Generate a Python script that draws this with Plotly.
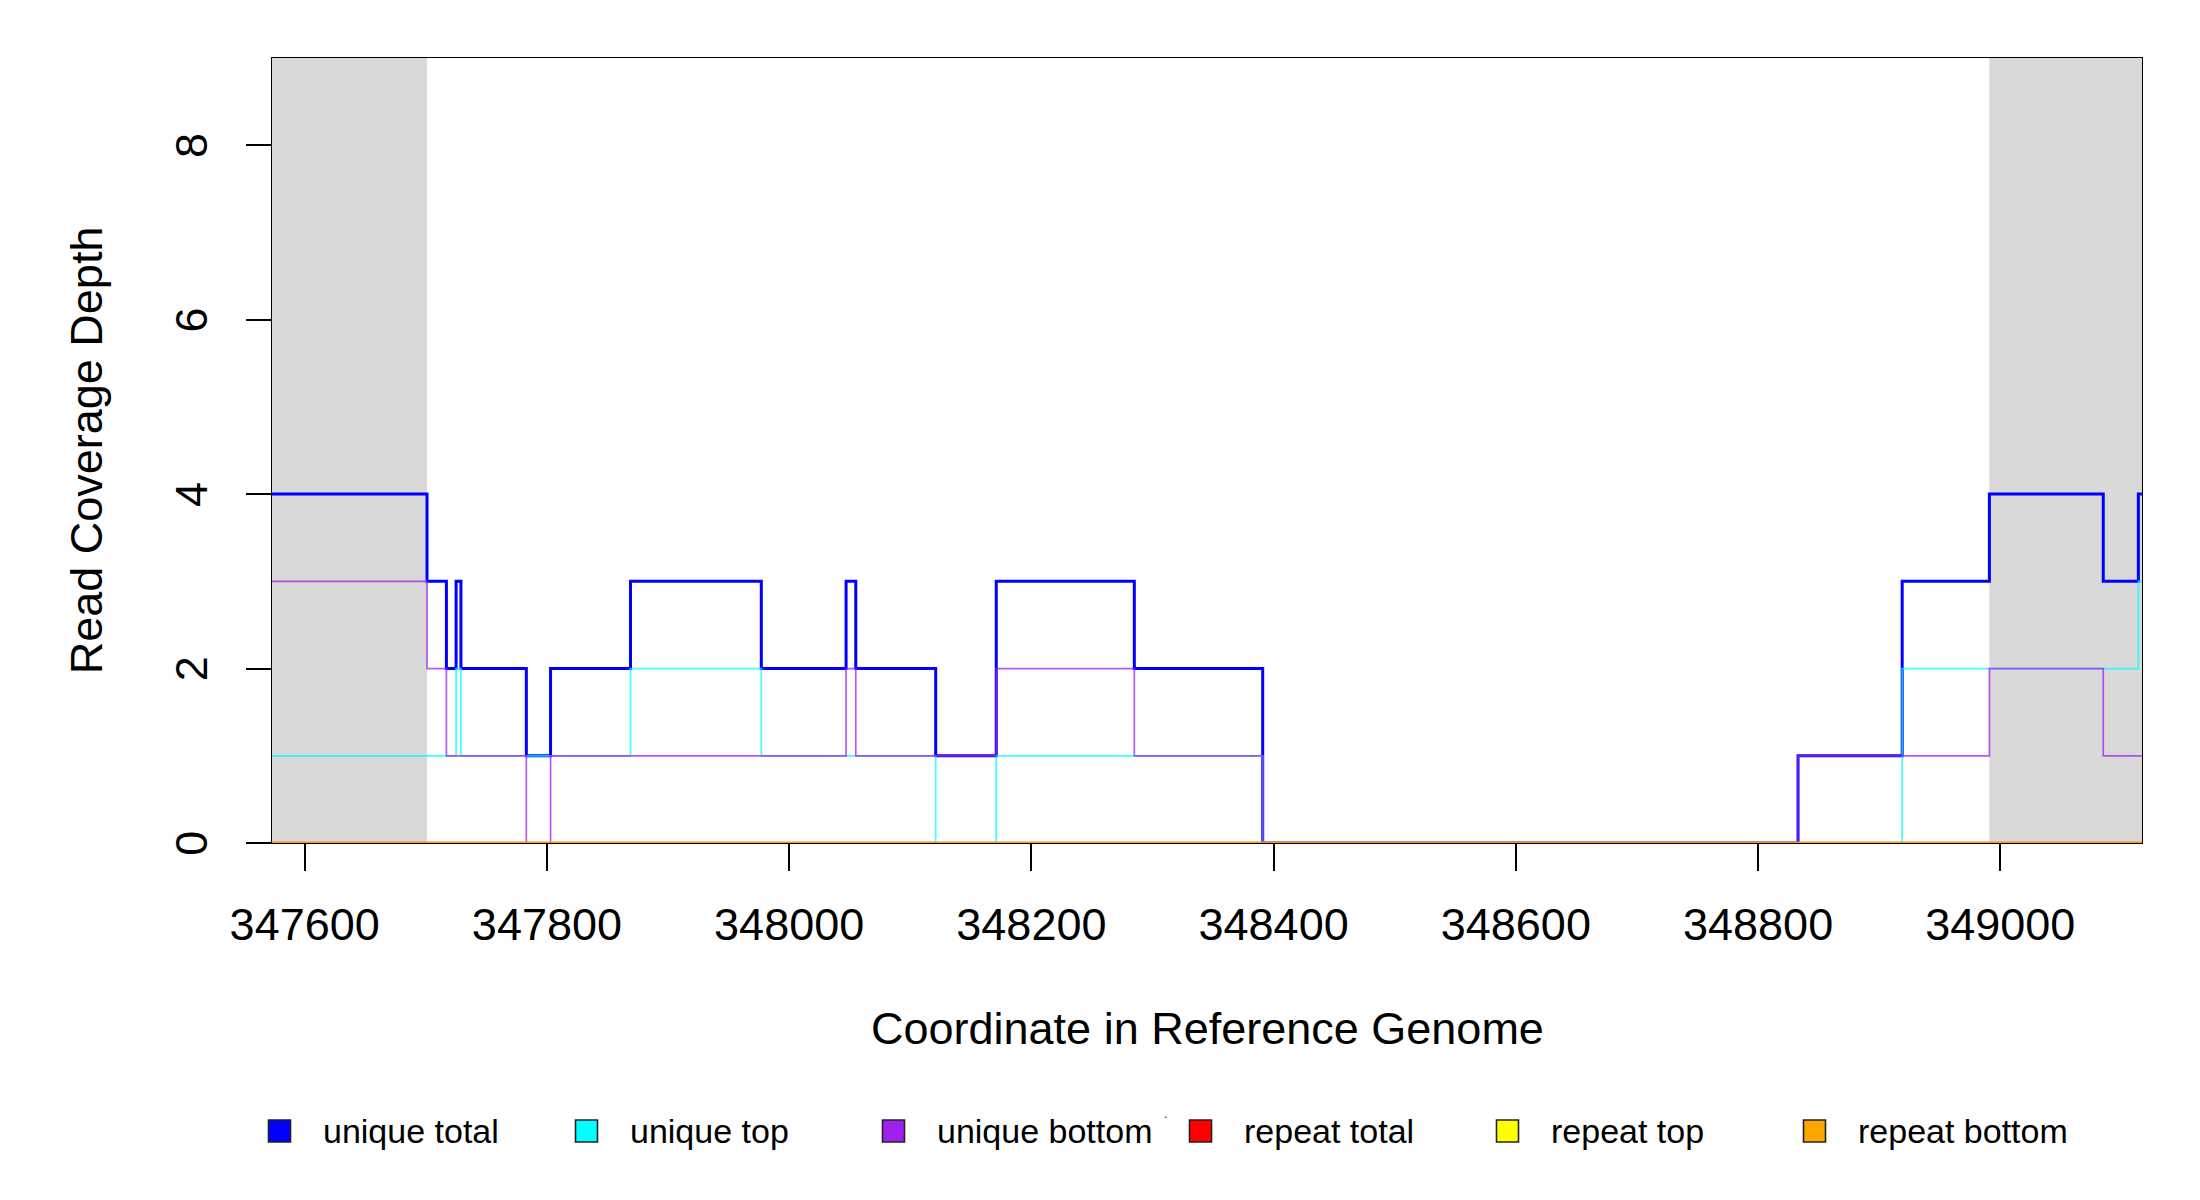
import plotly.graph_objects as go

# ---------------- data ----------------
x_start = 347573
x_end = 349117

# unique total (blue)
total_x = [347573, 347701, 347717, 347725, 347729, 347783, 347803, 347869, 347977,
           348047, 348055, 348121, 348171, 348285, 348391, 348833, 348919, 348991,
           349085, 349114]
total_y = [4, 3, 2, 3, 2, 1, 2, 3, 2, 3, 2, 1, 3, 2, 0, 1, 3, 4, 3, 4]

# unique top (cyan)
top_x = [347573, 347725, 347729, 347869, 347977, 348121, 348171, 348391, 348919, 349114]
top_y = [1, 2, 1, 2, 1, 0, 1, 0, 2, 3]

# unique bottom (purple)
bottom_x = [347573, 347701, 347717, 347783, 347803, 348047, 348055, 348171, 348285,
            348391, 348833, 348991, 349085]
bottom_y = [3, 2, 1, 0, 1, 2, 1, 2, 1, 0, 1, 2, 1]

# repeat series (all zero in this window)
rep_total_x = [347573]
rep_total_y = [0]
rep_top_x = [347573]
rep_top_y = [0]
rep_bottom_x = [347573]
rep_bottom_y = [0]

# shaded (flanking) regions
shade_starts = [347573, 348991]
shade_ends = [347701, 349117]

x_ticks = [347600, 347800, 348000, 348200, 348400, 348600, 348800, 349000]
y_ticks = [0, 2, 4, 6, 8]

series_names = ["unique total", "unique top", "unique bottom",
                "repeat total", "repeat top", "repeat bottom"]
series_colors = ["#0000FF", "#00FFFF", "#A020F0", "#FF0000", "#FFFF00", "#FFA500"]

# ---------------- figure ----------------
FONT = "Liberation Sans, Arial, Helvetica, sans-serif"
fig = go.Figure()

def stepped(xs, ys):
    return list(xs) + [x_end], list(ys) + [ys[-1]]

series = [(total_x, total_y), (top_x, top_y), (bottom_x, bottom_y),
          (rep_total_x, rep_total_y), (rep_top_x, rep_top_y), (rep_bottom_x, rep_bottom_y)]
line_rgba = ["rgba(0,0,255,1)", "rgba(0,255,255,0.75)", "rgba(160,32,240,0.75)",
             "rgba(255,0,0,0.7)", "rgba(255,255,0,0.7)", "rgba(255,150,0,1)"]
widths = [3, 1.7, 1.7, 1.7, 1.7, 3.2]

for (xs, ys), c, w, n in zip(series, line_rgba, widths, series_names):
    sx, sy = stepped(xs, ys)
    fig.add_trace(go.Scatter(x=sx, y=sy, mode="lines", line=dict(color=c, width=w, shape="hv"),
                             name=n, showlegend=False, hoverinfo="skip", cliponaxis=True))

for s, e in zip(shade_starts, shade_ends):
    fig.add_shape(type="rect", xref="x", yref="paper", x0=s, x1=e, y0=0, y1=1,
                  fillcolor="#D9D9D9", line=dict(width=0), layer="below")

# ---- legend (drawn below the plot, in plot-area pixel terms) ----
PLOT_W, PLOT_H = 1870.0, 785.0
leg_first_px = 7.5      # first box centre, px right of plot left edge
leg_step_px = 307.0     # spacing between entries
leg_y_px = -288.0       # box centre, px relative to plot bottom (negative = below)
box_half = 11.0
text_gap_px = 41.0

annotations = [
    dict(text="Coordinate in Reference Genome", xref="paper", yref="paper",
         x=0.5, y=-0.2357, xanchor="center", yanchor="middle", showarrow=False,
         font=dict(size=45)),
    dict(text="Read Coverage Depth", xref="paper", yref="paper",
         x=-0.099, y=0.5, xanchor="center", yanchor="middle", showarrow=False,
         textangle=-90, font=dict(size=45)),
    dict(text=".", xref="paper", yref="paper", x=0.4805, y=-0.358,
         xanchor="center", yanchor="middle", showarrow=False, font=dict(size=12),
         yshift=10, xshift=-5.5),
]
for i, (n, c) in enumerate(zip(series_names, series_colors)):
    cx = (leg_first_px + i * leg_step_px) / PLOT_W
    cy = leg_y_px / PLOT_H
    fig.add_shape(type="rect", xref="paper", yref="paper",
                  x0=cx - box_half / PLOT_W, x1=cx + box_half / PLOT_W,
                  y0=cy - box_half / PLOT_H, y1=cy + box_half / PLOT_H,
                  fillcolor=c, line=dict(color="#222222", width=1.6))
    annotations.append(dict(text=n, xref="paper", yref="paper",
                            x=cx + text_gap_px / PLOT_W, y=cy, xanchor="left",
                            yanchor="middle", showarrow=False, font=dict(size=34)))

fig.update_layout(
    width=2192, height=1192,
    margin=dict(l=264, r=58, t=50, b=357, autoexpand=False),
    paper_bgcolor="white", plot_bgcolor="white",
    font=dict(family=FONT, size=45, color="black"),
    showlegend=False,
    xaxis=dict(range=[x_start, x_end], tickmode="array", tickvals=x_ticks,
               ticktext=[str(v) for v in x_ticks], ticks="outside", ticklen=27,
               tickwidth=1.5, tickcolor="black", showgrid=False, zeroline=False,
               showline=True, linecolor="black", linewidth=1.3, mirror=True,
               tickfont=dict(size=45), ticklabelstandoff=15),
    yaxis=dict(range=[0, 9], tickmode="array", tickvals=y_ticks,
               ticks="outside", ticklen=25, tickwidth=1.5, tickcolor="black",
               showgrid=False, zeroline=False, showline=True, linecolor="black",
               linewidth=1.3, mirror=True, tickangle=-90, tickfont=dict(size=45),
               ticklabelstandoff=21, ticklabelshift=7),
    annotations=annotations,
)

fig.write_html("out.html")
